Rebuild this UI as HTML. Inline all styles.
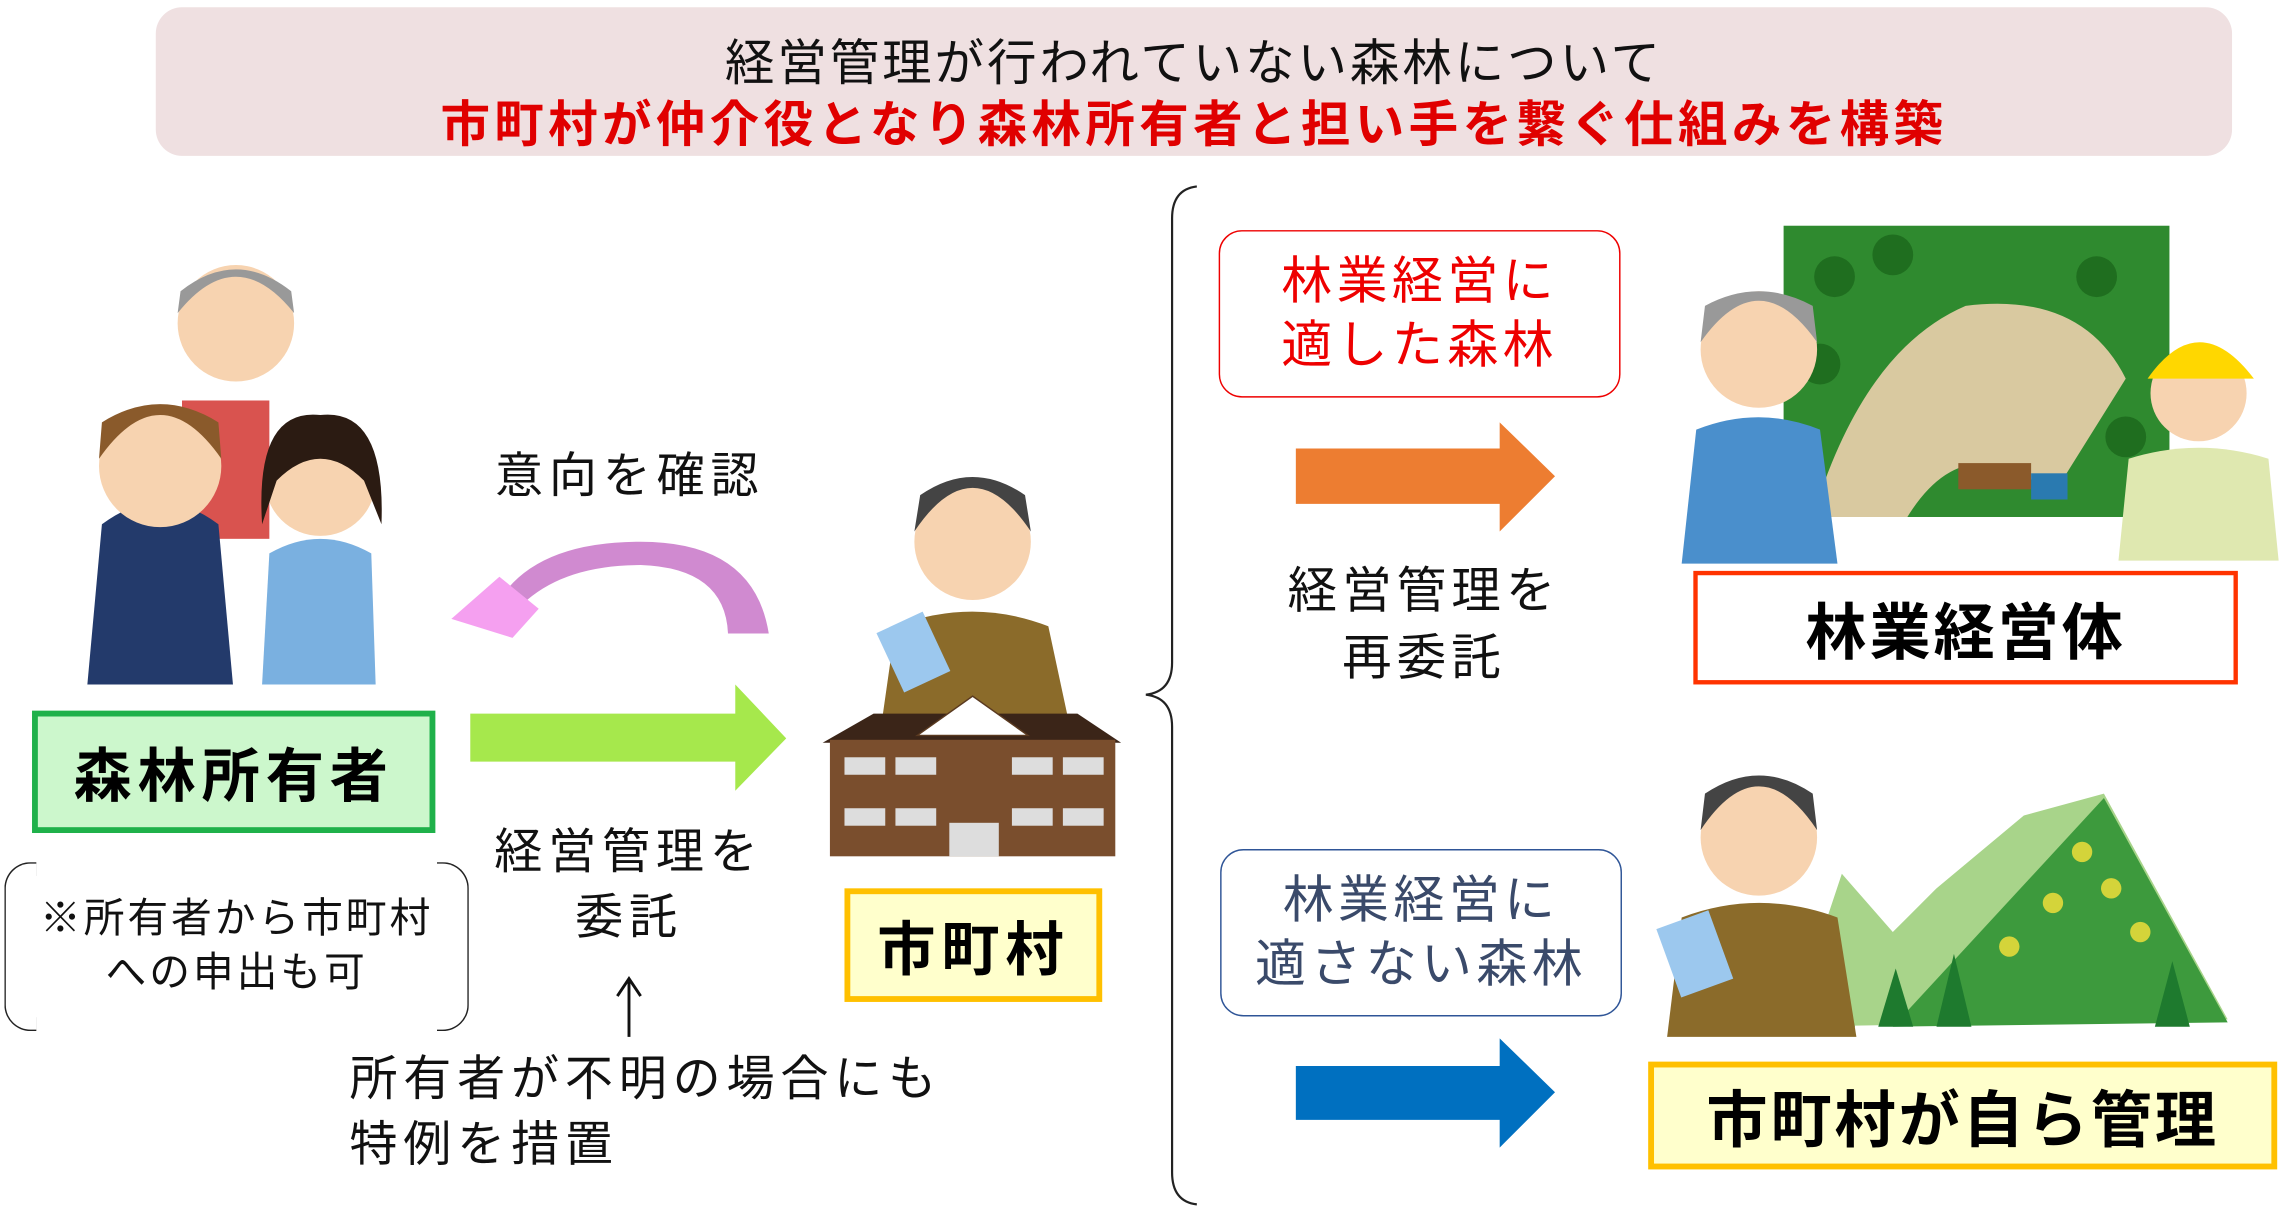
<!DOCTYPE html>
<html><head><meta charset="utf-8"><style>
html,body{margin:0;padding:0;background:#fff;width:2283px;height:1216px;overflow:hidden}
#s{position:absolute;left:0;top:0;width:1568px;height:835px;transform:scale(1.456,1.4563);transform-origin:0 0;font-family:"Liberation Sans","Noto Sans CJK JP",sans-serif}
.a{position:absolute}
.t{position:absolute;white-space:nowrap;color:#111}
.box{position:absolute;box-sizing:border-box;display:flex;align-items:center;justify-content:center;font-weight:bold}
</style></head><body><div id="s">
<div class="a" style="left:107px;top:5px;width:1426px;height:102px;background:#efe0e1;border-radius:18px"></div>
<div class="t" style="left:107px;width:1426px;top:16px;text-align:center;font-size:34px;letter-spacing:2px">経営管理が行われていない森林について</div>
<div class="t" style="left:107px;width:1426px;top:58px;text-align:center;font-size:34px;letter-spacing:3px;color:#e00000;font-weight:bold">市町村が仲介役となり森林所有者と担い手を繋ぐ仕組みを構築</div>

<svg class="a" style="left:0;top:0" width="1568" height="835">
<rect x="125" y="275" width="60" height="95" fill="#d9534f"/>
<circle cx="162" cy="222" r="40" fill="#f7d3b0"/><path d="M122 215 Q162 165 202 215 L200 200 Q162 170 124 200Z" fill="#999"/>
<path d="M60 470 L70 360 Q110 330 150 360 L160 470Z" fill="#233a6b"/>
<circle cx="110" cy="320" r="42" fill="#f7d3b0"/><path d="M68 315 Q110 255 152 315 L150 290 Q110 265 70 290Z" fill="#8a5a2b"/>
<path d="M180 470 L185 380 Q220 360 255 380 L258 470Z" fill="#7ab0e0"/>
<circle cx="220" cy="330" r="38" fill="#f7d3b0"/><path d="M180 360 Q175 280 220 285 Q265 280 262 360 L250 330 Q220 300 190 330Z" fill="#2b1b12"/>
<path d="M528 435 Q518 372 440 372 Q375 372 348 405 L362 412 Q390 388 440 388 Q498 390 500 435Z" fill="#d08ad0"/>
<polygon points="310,425 343,396 370,418 352,438" fill="#f5a0f0"/>
<polygon points="323,490 505,490 505,470 540,507 505,543 505,523 323,523" fill="#a6e84c"/>
<line x1="432" y1="712" x2="432" y2="674" stroke="#111" stroke-width="2"/><polyline points="424,684 432,672 440,684" fill="none" stroke="#111" stroke-width="2"/>
<circle cx="668" cy="372" r="40" fill="#f7d3b0"/><path d="M628 365 Q668 305 708 365 L704 340 Q668 315 632 340Z" fill="#444"/>
<path d="M605 500 L615 430 Q668 410 720 430 L735 500Z" fill="#8b6b2a"/>
<rect x="610" y="425" width="35" height="45" fill="#9cc8ee" transform="rotate(-25 628 448)"/>
<polygon points="565,510 600,490 740,490 770,510" fill="#3b2518"/>
<rect x="570" y="508" width="196" height="80" fill="#7a4e2d"/>
<polygon points="630,505 668,478 706,505" fill="#fff" stroke="#5a3a20"/>
<g fill="#ddd"><rect x="580" y="520" width="28" height="12"/><rect x="615" y="520" width="28" height="12"/><rect x="695" y="520" width="28" height="12"/><rect x="730" y="520" width="28" height="12"/><rect x="580" y="555" width="28" height="12"/><rect x="615" y="555" width="28" height="12"/><rect x="695" y="555" width="28" height="12"/><rect x="730" y="555" width="28" height="12"/><rect x="652" y="565" width="34" height="23"/></g>
<path d="M822 128 Q805 130 805 150 L805 455 Q805 475 787 477 Q805 479 805 499 L805 805 Q805 825 822 827" fill="none" stroke="#222" stroke-width="1.5"/>
<polygon points="890,308 1030,308 1030,290 1068,327 1030,365 1030,346 890,346" fill="#ed7d31"/>
<polygon points="890,732 1030,732 1030,713 1068,750 1030,788 1030,769 890,769" fill="#0070c0"/>
<rect x="1225" y="155" width="265" height="200" fill="#2f8a2f"/>
<path d="M1245 355 Q1280 240 1350 210 Q1430 200 1460 260 L1410 340 Q1350 290 1310 355Z" fill="#d9c9a0"/>
<g fill="#1f6e1f"><circle cx="1260" cy="190" r="14"/><circle cx="1300" cy="175" r="14"/><circle cx="1440" cy="190" r="14"/><circle cx="1460" cy="300" r="14"/><circle cx="1250" cy="250" r="14"/></g>
<rect x="1345" y="318" width="50" height="18" fill="#8b5a2b"/><rect x="1395" y="325" width="25" height="18" fill="#2a7ab0"/>
<circle cx="1208" cy="240" r="40" fill="#f7d3b0"/><path d="M1168 235 Q1208 178 1248 235 L1245 210 Q1208 190 1171 210Z" fill="#999"/>
<path d="M1155 387 L1165 295 Q1208 278 1250 295 L1262 387Z" fill="#4a8fcc"/>
<circle cx="1510" cy="270" r="33" fill="#f7d3b0"/><path d="M1475 260 Q1510 210 1548 260Z" fill="#ffd700"/>
<path d="M1455 385 L1462 315 Q1510 300 1558 315 L1565 385Z" fill="#dfe8b0"/>
<path d="M1230 705 L1265 600 L1300 640 L1330 610 L1390 560 L1445 545 L1530 700Z" fill="#a8d48a"/>
<path d="M1300 705 L1445 548 L1530 702Z" fill="#3d9a3d"/>
<g fill="#d4d43a"><circle cx="1430" cy="585" r="7"/><circle cx="1450" cy="610" r="7"/><circle cx="1410" cy="620" r="7"/><circle cx="1470" cy="640" r="7"/><circle cx="1380" cy="650" r="7"/></g>
<g fill="#1e7a2e"><polygon points="1250,705 1262,660 1274,705"/><polygon points="1290,705 1302,665 1314,705"/><polygon points="1330,705 1342,655 1354,705"/><polygon points="1480,705 1492,660 1504,705"/></g>
<circle cx="1208" cy="575" r="40" fill="#f7d3b0"/><path d="M1168 570 Q1208 510 1248 570 L1245 545 Q1208 520 1171 545Z" fill="#444"/>
<path d="M1145 712 L1155 630 Q1208 610 1262 630 L1275 712Z" fill="#8b6b2a"/>
<rect x="1145" y="630" width="38" height="50" fill="#9cc8ee" transform="rotate(-20 1164 655)"/>
</svg>

<div class="t" style="left:340px;top:300px;font-size:33px;letter-spacing:4px">意向を確認</div>
<div class="box" style="left:22px;top:488px;width:277px;height:84px;border:4px solid #1fb14a;background:#ccf7cc;font-size:40px;letter-spacing:4px">森林所有者</div>
<div class="a" style="left:3px;top:592px;width:22px;height:116px;box-sizing:border-box;border:1.5px solid #222;border-right:none;border-radius:18px 0 0 18px"></div>
<div class="a" style="left:300px;top:592px;width:22px;height:116px;box-sizing:border-box;border:1.5px solid #222;border-left:none;border-radius:0 18px 18px 0"></div>
<div class="t" style="left:3px;width:319px;top:612px;text-align:center;font-size:28px;letter-spacing:2px;line-height:37px">※所有者から市町村<br>への申出も可</div>
<div class="t" style="left:332px;width:200px;top:562px;text-align:center;font-size:33px;letter-spacing:4px;line-height:45px">経営管理を<br>委託</div>
<div class="t" style="left:240px;top:718px;font-size:33px;letter-spacing:4px;line-height:45px">所有者が不明の場合にも<br>特例を措置</div>
<div class="box" style="left:580px;top:610px;width:177px;height:78px;border:4px solid #ffc000;background:#ffffcc;font-size:40px;letter-spacing:4px">市町村</div>
<div class="box" style="left:837px;top:158px;width:276px;height:115px;border:1.5px solid #e00;border-radius:16px;background:#fff;font-size:35px;letter-spacing:3px;font-weight:normal;color:#e00;line-height:44px;text-align:center">林業経営に<br>適した森林</div>
<div class="t" style="left:878px;width:200px;top:383px;text-align:center;font-size:34px;letter-spacing:3.5px;line-height:46px">経営管理を<br>再委託</div>
<div class="box" style="left:838px;top:583px;width:276px;height:115px;border:1.5px solid #2f5597;border-radius:16px;background:#fff;font-size:35px;letter-spacing:3px;font-weight:normal;color:#3a4a6a;line-height:44px;text-align:center">林業経営に<br>適さない森林</div>
<div class="box" style="left:1163px;top:392px;width:374px;height:78px;border:3px solid #ff3300;background:#fff;font-size:42px;letter-spacing:2px">林業経営体</div>
<div class="box" style="left:1132px;top:729px;width:432px;height:74px;border:4px solid #ffc000;background:#ffffcc;font-size:42px;letter-spacing:2px">市町村が自ら管理</div>
</div></body></html>
